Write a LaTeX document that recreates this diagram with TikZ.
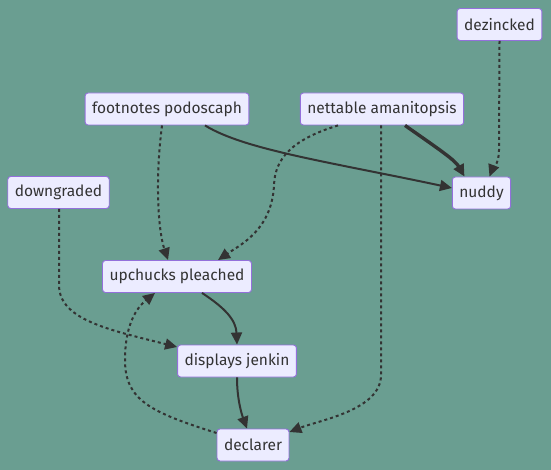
\documentclass[tikz,border=0pt]{standalone}
\usepackage{fontspec}
\setmainfont{Fira Sans}
\usetikzlibrary{arrows.meta}
\definecolor{bgteal}{RGB}{106,158,145}
\definecolor{boxfill}{RGB}{236,236,255}
\definecolor{boxline}{RGB}{147,112,219}
\definecolor{inkgray}{RGB}{51,51,51}
\tikzset{
    box/.style={draw=boxline, fill=boxfill, rounded corners=3pt, line width=0.9pt,
        minimum height=32pt, inner xsep=7pt, text=inkgray,
        font=\fontsize{15.5}{18}\selectfont},
    link/.style={draw=inkgray, line width=2pt, -{Triangle[length=12pt,width=11pt]}},
    heavy/.style={link, line width=3.4pt},
    dots/.style={link, dash pattern=on 3pt off 3pt}
}
\begin{document}
\begin{tikzpicture}[x=1pt, y=-1pt]
    \fill[bgteal] (0,0) rectangle (551,470);
    \useasboundingbox (0,0) rectangle (551,470);
    \foreach \nm/\x/\y/\txt in {dz/499.5/24.5/dezincked, fp/167/109/footnotes podoscaph,
        na/382/109/nettable amanitopsis, dg/58.5/192.5/downgraded, nd/481.5/193/nuddy,
        up/177/276.5/upchucks pleached, dj/237/361/displays jenkin, dc/253/445/declarer} {
        \node[box] (\nm) at (\x,\y) {\txt};
    }
    \draw[link] ([xshift=38pt]fp.south) .. controls (245,150) and (330,162) .. ([yshift=5pt]nd.west);
    \draw[heavy] ([xshift=23pt]na.south) .. controls (440,150) and (455,160) .. ([xshift=-17pt]nd.north);
    \draw[dots] (dz.south) -- (499,150) .. controls (499,165) and (492,170) .. ([xshift=8pt]nd.north);
    \draw[dots] ([xshift=-5pt]fp.south) .. controls (155,180) and (158,230) .. ([xshift=-9pt]up.north);
    \draw[dots] ([xshift=-44pt]na.south) .. controls (290,140) and (275,160) .. (274,185)
        .. controls (272,230) and (240,245) .. ([xshift=41pt]up.north);
    \draw[dots] ([xshift=-1pt]na.south) -- (381,375) .. controls (381,410) and (320,420) .. ([yshift=13pt]dc.east);
    \draw[dots] ([xshift=0.5pt]dg.south) -- (59,285) .. controls (59,320) and (110,330) .. ([yshift=14pt]dj.west);
    \draw[link] ([xshift=25pt]up.south) .. controls (225,308) and (236,320) .. (dj.north);
    \draw[link] (dj.south) .. controls (237,400) and (242,415) .. ([xshift=-6pt]dc.north);
    \draw[dots] ([yshift=12pt]dc.west) .. controls (150,412) and (125,400) .. (125,360)
        .. controls (125,320) and (140,305) .. ([xshift=-22pt]up.south);
\end{tikzpicture}
\end{document}
